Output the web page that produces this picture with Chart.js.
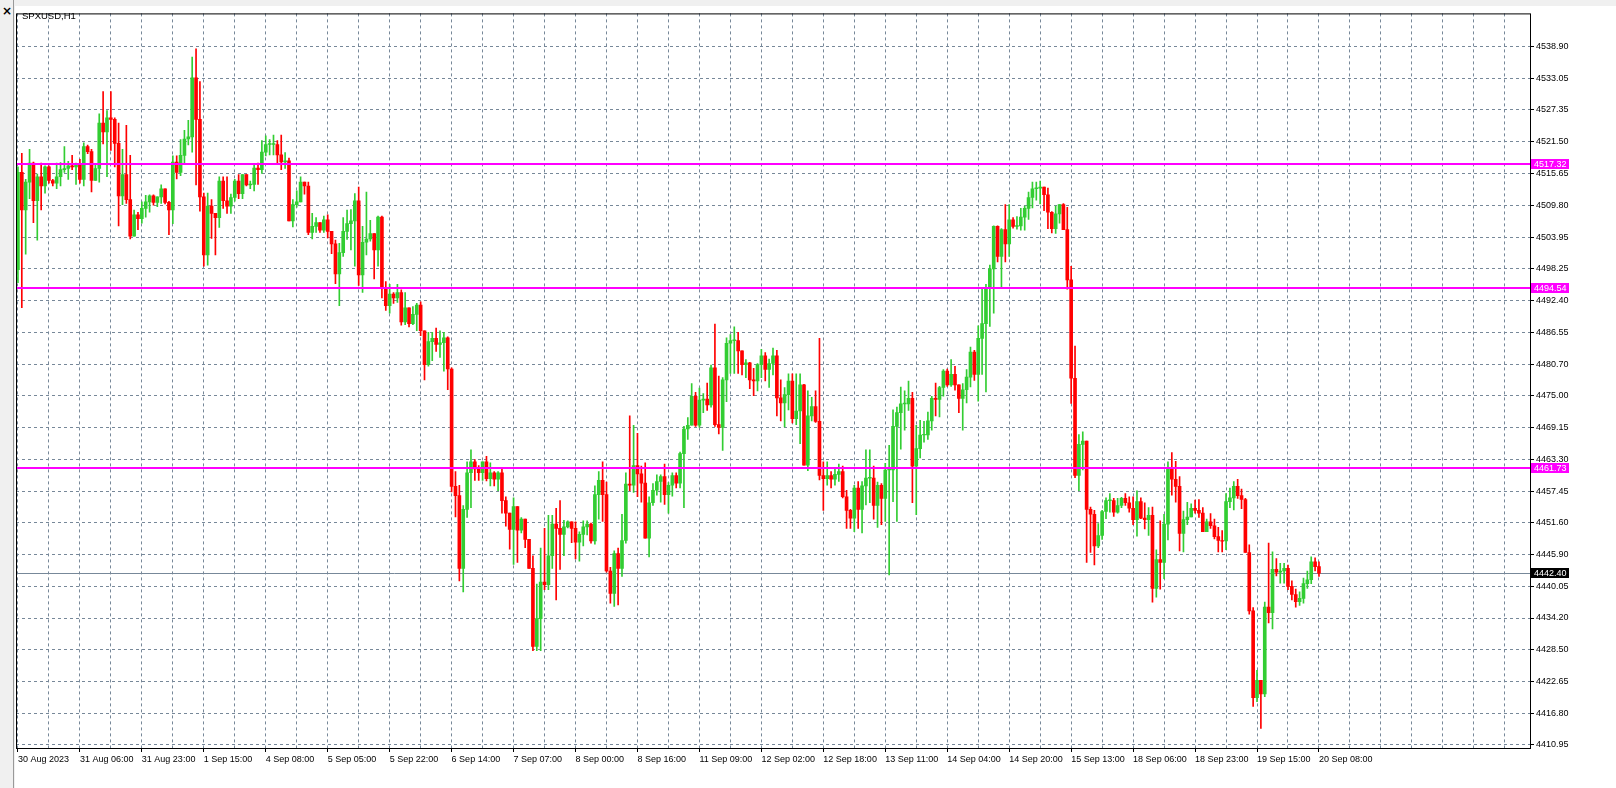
<!DOCTYPE html>
<html><head><meta charset="utf-8">
<script src="https://cdn.jsdelivr.net/npm/chart.js@4.4.1/dist/chart.umd.min.js"></script>
<style>
html,body{margin:0;padding:0;background:#f0f0f0;width:1616px;height:788px;overflow:hidden;font-family:"Liberation Sans",sans-serif}
#wrap{position:absolute;left:15px;top:6px;width:1601px;height:782px;background:#fff}
#title{position:absolute;left:22px;top:10px;font-size:9.5px;color:#000;z-index:2}
#x{position:absolute;left:2px;top:4px;font-size:12px;font-weight:bold;font-family:"DejaVu Sans",sans-serif}
#lline{position:absolute;left:13px;top:0;width:1px;height:788px;background:#999}
</style></head><body>
<div id="x">×</div><div id="lline"></div>
<div id="wrap"><canvas id="c"></canvas></div>
<div id="title">SPXUSD,H1</div>
<script>
const firstOpen = 4498.0;
const closes = [4515.8,4508.9,4514,4517.5,4510.6,4515,4513.3,4516.8,4514.3,4513.8,
4515,4516.3,4516.5,4517,4516.8,4517.3,4514.5,4520.5,4519.6,4514.3,
4516.5,4524.8,4523.2,4525.8,4525.5,4521.1,4511.5,4515.4,4510.8,4504.1,
4508,4507.3,4509.2,4510.4,4511.5,4510.3,4511.3,4512.8,4510.3,4508.9,
4517.7,4515.8,4518.9,4521.9,4522.3,4533.1,4525.5,4511.3,4500.7,4509.6,
4508.3,4507.5,4514.2,4510.6,4509.6,4511.2,4514.2,4511.9,4515.4,4513.5,
4513.6,4516.6,4516.3,4519.5,4520.9,4520.9,4520.9,4519,4517.7,4517.9,
4506.9,4509.9,4510.4,4514,4513.3,4504.8,4505.9,4506.6,4505.2,4507.1,
4505,4502.7,4497.2,4501.1,4505,4506.4,4506.9,4510.6,4497,4503,
4503.6,4504.6,4501.6,4507.6,4494.6,4491.4,4493.5,4492.8,4493.8,4488.4,
4491,4488.1,4489.8,4491.5,4486.8,4480.6,4484.8,4485.4,4484.3,4484.6,
4485.5,4479.8,4458.3,4456.6,4443.3,4454.1,4460.8,4462.8,4461.5,4460.8,
4462.8,4459.7,4460.8,4459.6,4460.8,4455.7,4453.4,4450.4,4454.6,4450.3,
4452.3,4448.6,4443.3,4429,4434.1,4440.8,4440.3,4445.6,4451.4,4450.6,
4449.5,4450.9,4451.8,4450.6,4448.1,4449.5,4450.9,4451.4,4448.3,4456.8,
4459.4,4456.8,4442.8,4438.7,4446,4443.3,4448.4,4458.7,4458.5,4462.1,
4460.6,4458.9,4448.8,4455.3,4457.6,4459.2,4460.1,4456.8,4458.5,4460.3,
4458.9,4464.3,4468.8,4469.5,4474.8,4469.5,4474.1,4474.3,4473.2,4480,
4469.6,4469.1,4477.8,4484.5,4485,4485,4483.1,4480.6,4480.9,4477.8,
4477.6,4480.6,4482.2,4479.7,4480.8,4482.2,4474.5,4473.6,4475.1,4477.6,
4470.7,4472.1,4476.9,4462.2,4471.2,4472.9,4470.2,4460.3,4459.7,4460.3,
4459.6,4460.5,4461,4456.4,4453.9,4452.5,4458,4454.1,4458.4,4459.8,
4459.8,4454.8,4458.5,4456.1,4461.3,4461.3,4469.3,4471.8,4473.4,4473.4,
4474.4,4462,4465.2,4467.7,4467.7,4470.3,4474.4,4474.2,4476.4,4479.4,
4476.9,4478.8,4476.9,4474.4,4476,4478.3,4482.9,4478.8,4485.4,4488.1,
4494.6,4498.1,4505.9,4500.4,4505.3,4502.7,4507.1,4505.9,4506,4507.6,
4509.2,4511.2,4512.8,4512.9,4513.1,4511.7,4508.5,4505.5,4508.2,4509.9,
4505.3,4496.1,4478.1,4460.3,4466,4466.6,4454.1,4453.2,4447.4,4449.3,
4453.7,4455.7,4455.7,4453.6,4454.8,4456.1,4455.3,4454.3,4452.2,4455.5,
4452.5,4452.2,4453,4439.6,4444.9,4444.4,4451.4,4461.7,4459.6,4458.3,
4449.7,4452.2,4452.7,4454.3,4453.9,4453.4,4450,4451.8,4451.1,4449.1,
4448.4,4448.3,4455.5,4456.2,4458.3,4456.6,4455.9,4446.2,4435.5,4419.6,
4422.8,4420.3,4436.2,4435.2,4443.1,4442.6,4442.8,4443.3,4440,4438.5,
4437.2,4437.8,4440.5,4441.2,4444.5,4443.6,4442.4];
const highs = [4516.8,4519.3,4514.5,4520,4517.7,4515.5,4517.5,4517,4517,4514.5,
4517.5,4517.6,4520.5,4517.8,4518.9,4517.5,4518.2,4521.2,4520.8,4520,
4517.2,4526.5,4530.6,4527.1,4530.6,4525.8,4524.8,4520,4524.4,4518.9,
4508.9,4508.5,4510.4,4511.6,4511.7,4511.7,4511.3,4513.5,4512.8,4510.5,
4518.8,4518.8,4521.8,4523.5,4525.3,4536.9,4538.4,4532.4,4512,4512,
4510.8,4508.3,4515,4515,4515,4511.8,4514.5,4515.4,4515.4,4515.4,
4514.2,4517.2,4517.5,4521.6,4522.5,4521.8,4522.6,4521.6,4522.6,4519.4,
4518.4,4510.8,4512.4,4515,4513.7,4514,4508.3,4507.5,4506.6,4507.8,
4508,4505,4503.4,4502.8,4507.5,4508.9,4509,4511.9,4513.1,4505.9,
4512.2,4507,4504.6,4507.8,4507.8,4495.8,4495.3,4493.8,4495.3,4494.3,
4493.8,4491,4491.2,4491.8,4492.1,4486.8,4486.5,4486.5,4487.3,4486.8,
4486.5,4485.7,4480,4461,4458.5,4454.8,4462.8,4465,4463.2,4462.1,
4462.8,4463.8,4462.6,4461,4461,4461.6,4456.4,4453,4456.2,4454.6,
4452.6,4452.3,4448.6,4445.6,4440.4,4447,4450.6,4453,4453,4454.3,
4455.7,4452.1,4452,4451.8,4451.8,4450,4452,4452,4451.6,4458.4,
4461,4462.8,4459.1,4443.5,4446.5,4447,4453.2,4460.8,4471.2,4469.5,
4468,4462,4462.6,4456.4,4458.8,4460.4,4460.4,4462.4,4459,4460.8,
4460.8,4464.6,4469.3,4470.9,4477.1,4475.5,4476.3,4475.3,4477.2,4480.5,
4488,4478.5,4478.2,4485.5,4486.1,4487.5,4486.5,4481.9,4481.5,4481,
4479.9,4480.8,4483.4,4482.8,4481.6,4483.6,4483.2,4477.8,4476.4,4478.9,
4478.9,4478.9,4478.9,4477,4475.8,4474.6,4475.8,4485.4,4462.8,4462.8,
4461,4461.6,4462.4,4462,4457.6,4454.1,4458.5,4459.2,4459.2,4465,
4465,4462,4459.1,4458.8,4462.5,4465.8,4472.3,4472.8,4476.5,4475.8,
4477.6,4475.5,4469.5,4470.4,4470.2,4471.9,4474.8,4477.2,4476.6,4479.7,
4479.8,4481.5,4480.3,4476.9,4477.1,4479.7,4483.8,4483.2,4487.7,4494.6,
4495.3,4498.8,4506,4506,4505.5,4509.9,4509.9,4507.5,4507.7,4509.2,
4509.6,4512.2,4514,4514,4514.2,4512.8,4512.9,4508.6,4509.6,4509.9,
4510.1,4509.4,4498.6,4484,4467.8,4468.3,4466.6,4454.5,4453.9,4451.5,
4453.9,4456.2,4457,4456.1,4456.1,4456.3,4457,4456.4,4456.4,4457.5,
4456.2,4455.3,4454.4,4454.5,4446.7,4452,4453.2,4462.8,4464.5,4462.9,
4460.1,4453.8,4455.4,4455.1,4455.8,4455.9,4454.4,4452.3,4453.3,4452.3,
4450.8,4450.2,4457,4458,4459.2,4459.6,4457.8,4456.1,4447.6,4436.1,
4424.6,4422.8,4437.1,4447.9,4446.3,4445.1,4444.2,4444.2,4443.9,4441,
4439.5,4439,4441.5,4442.8,4445.4,4445.2,4444.5];
const lows = [4495.6,4491,4500.8,4511,4506.6,4503.4,4508.9,4512,4513.8,4513.3,
4512.8,4513.3,4515.8,4514.5,4516.3,4513.6,4513.8,4513.3,4519.2,4512.2,
4514.3,4514,4521,4515,4519.8,4516.8,4506,4509.9,4510.1,4503.6,
4504.8,4505.3,4506.5,4507.6,4508.5,4509.8,4509.5,4510.1,4510,4504.4,
4506.4,4514.6,4515.2,4517.2,4520.8,4519.5,4513.5,4508.7,4498.6,4498.8,
4503.7,4500.7,4505.7,4509.2,4508.3,4508.3,4510.5,4511,4511,4513.3,
4512.8,4512.4,4513.6,4515.6,4518.8,4519,4519,4517.5,4516.3,4516.5,
4506.9,4505.8,4509.4,4513.3,4511.8,4504.4,4503.6,4504.8,4504.8,4504.8,
4503.8,4500.9,4495.4,4491.4,4500.4,4503.5,4501.6,4498.6,4495.1,4493.8,
4500.7,4503.2,4496.3,4498.6,4492.8,4490.5,4490,4491.8,4492,4487.8,
4487.9,4487.5,4487.9,4486.8,4485.9,4477.8,4480.3,4481.3,4483,4481.9,
4479.4,4476,4457.3,4452.7,4441,4439,4452.6,4454.4,4459.4,4459.4,
4459.4,4459.3,4458.4,4458.4,4457.5,4453.4,4451,4446.8,4444,4444.4,
4449.8,4447.1,4443.3,4428.2,4428.2,4428.2,4439.4,4439.4,4443.3,4437.5,
4443.1,4445.6,4450.7,4448,4445,4444.6,4447.4,4449.4,4447.9,4447.7,
4452.3,4451.9,4442.6,4436.9,4436.3,4436.6,4441.8,4447.9,4457.5,4457.2,
4456.4,4455.4,4448.8,4445.4,4454.8,4456.7,4455.4,4455,4453.4,4456.5,
4458,4458,4454.4,4466.9,4469.5,4469.3,4469.1,4471.8,4472.2,4472.8,
4469.3,4467.9,4464.9,4473.8,4479,4479,4479,4478.7,4478.2,4476.2,
4474.9,4475.8,4478.2,4477.6,4476.4,4478.7,4471.2,4470.3,4469.2,4472.3,
4469.9,4469.6,4466.1,4462.2,4461.2,4470.3,4470,4459.5,4453.9,4458.5,
4458,4458.5,4459.2,4456.2,4450.6,4450.6,4450,4450.6,4449.8,4454.9,
4455.3,4452.3,4450.8,4451.3,4451.9,4442.1,4455.5,4451.9,4465.1,4468.6,
4472.2,4455.3,4453.1,4463.5,4466.4,4466.9,4468.6,4471.2,4471,4474.8,
4476.6,4476.6,4475.9,4471.8,4468.6,4473.6,4476.5,4477.7,4473.9,4478.8,
4475.6,4487.6,4490,4499.4,4494.6,4499.4,4500.4,4505.6,4505.4,4505.2,
4505.2,4507.2,4509.3,4510.7,4510,4508.8,4505.5,4504.7,4504.6,4506.5,
4505.3,4494.4,4473.5,4459.9,4457.5,4461.3,4444.4,4446.2,4443.9,4447.1,
4448.6,4452.4,4453.6,4452.8,4453.4,4454.4,4454.8,4453.6,4451.3,4449.2,
4452.4,4450.5,4449.3,4437.1,4438,4439.5,4441.4,4448.5,4456.7,4455.4,
4446.5,4446.3,4451.3,4453.2,4453.4,4452.6,4450,4450,4450.6,4448.7,
4446.3,4446.3,4446.7,4454.4,4454,4456.1,4454.2,4446.2,4434.9,4418,
4418.9,4414,4419.8,4433.3,4432.2,4441.9,4440.6,4440.6,4439.4,4437.5,
4436.2,4436.5,4436.9,4439.6,4440.5,4442.8,4441.8];
const dateLabels = ["30 Aug 2023","31 Aug 06:00","31 Aug 23:00","1 Sep 15:00","4 Sep 08:00","5 Sep 05:00","5 Sep 22:00","6 Sep 14:00","7 Sep 07:00","8 Sep 00:00","8 Sep 16:00","11 Sep 09:00","12 Sep 02:00","12 Sep 18:00","13 Sep 11:00","14 Sep 04:00","14 Sep 20:00","15 Sep 13:00","18 Sep 06:00","18 Sep 23:00","19 Sep 15:00","20 Sep 08:00"];
const priceTicks = [4538.90,4533.05,4527.35,4521.50,4515.65,4509.80,4503.95,4498.25,4492.40,4486.55,4480.70,4475.00,4469.15,4463.30,4457.45,4451.60,4445.90,4440.05,4434.20,4428.50,4422.65,4416.80,4410.95];
const levels = [4517.32,4494.54,4461.73];
const lastPrice = 4442.40;
const totalSlots = 391;

const opens = closes.map((c,i)=> i===0 ? firstOpen : closes[i-1]);
const labels = Array.from({length:totalSlots},(_,i)=> i%16===0 ? (dateLabels[i/16]||'') : '');
const col = closes.map((c,i)=> c>=opens[i] ? '#32cd32' : '#ff0000');
const bodies = closes.map((c,i)=> {let a=opens[i],b=c; if(Math.abs(a-b)<0.15){b=a+(c>=a?0.15:-0.15);} return [a,b];});
const wicks = closes.map((c,i)=> [Math.min(lows[i],opens[i],c), Math.max(highs[i],opens[i],c)]);
const GRID='#778899';
const FONT='"Liberation Sans",sans-serif';

const overlay = {
  id:'overlay',
  beforeDatasetsDraw(ch){
    const {ctx,chartArea:a,scales:{y}}=ch;
    ctx.save();
    const yp=Math.round(y.getPixelForValue(lastPrice))+0.5;
    ctx.strokeStyle=GRID;ctx.lineWidth=1;ctx.beginPath();ctx.moveTo(a.left,yp);ctx.lineTo(a.right,yp);ctx.stroke();
    ctx.restore();
  },
  afterDatasetsDraw(ch){
    const {ctx,chartArea:a,scales:{y}}=ch;
    ctx.save();
    ctx.font='9px '+FONT;
    ctx.textBaseline='middle';ctx.textAlign='left';
    levels.forEach(v=>{
      const yp=Math.round(y.getPixelForValue(v));
      ctx.fillStyle='#ff00ff';ctx.fillRect(a.left,yp-1,a.right-a.left,2);
      ctx.fillRect(a.right+1,yp-5,38,10);
      ctx.fillStyle='#fff';ctx.fillText(v.toFixed(2),a.right+4,yp+0.5);
    });
    const yp=Math.round(y.getPixelForValue(lastPrice));
    ctx.fillStyle='#000';ctx.fillRect(a.right+1,yp-5,38,10);
    ctx.fillStyle='#fff';ctx.fillText(lastPrice.toFixed(2),a.right+4,yp+0.5);
    ctx.strokeStyle='#000';ctx.lineWidth=1;
    ctx.strokeRect(a.left+0.5,a.top+0.5,a.right-a.left,a.bottom-a.top);
    ctx.restore();
  }
};

new Chart(document.getElementById('c'),{
  type:'bar',
  data:{labels,datasets:[
    {data:wicks,backgroundColor:col,barThickness:1,grouped:false,order:2},
    {data:bodies,backgroundColor:col,barThickness:3,grouped:false,order:1}
  ]},
  options:{
    responsive:true,maintainAspectRatio:false,animation:false,
    layout:{padding:{left:1,top:2}},
    plugins:{legend:{display:false},tooltip:{enabled:false}},
    scales:{
      x:{offset:true,
        grid:{offset:false,color:c=>c.index%8===0?GRID:'rgba(0,0,0,0)',tickColor:c=>(c.index%16===0&&c.index<=336)?'#000':'rgba(0,0,0,0)',tickLength:4},
        border:{display:false,dash:[3,3]},
        ticks:{autoSkip:false,maxRotation:0,align:'start',padding:2,color:'#000',font:{size:9,family:FONT}},
        afterFit(s){s.height=40;}
      },
      y:{position:'right',min:4410.4,max:4544.9,
        afterBuildTicks(s){s.ticks=priceTicks.map(v=>({value:v}));},
        grid:{color:GRID,tickColor:'#000',tickLength:4},
        border:{display:false,dash:[3,3]},
        ticks:{padding:2,color:'#000',font:{size:9,family:FONT},callback:v=>Number(v).toFixed(2)},
        afterFit(s){s.width=86;}
      }
    }
  },
  plugins:[overlay]
});
</script>
</body></html>
